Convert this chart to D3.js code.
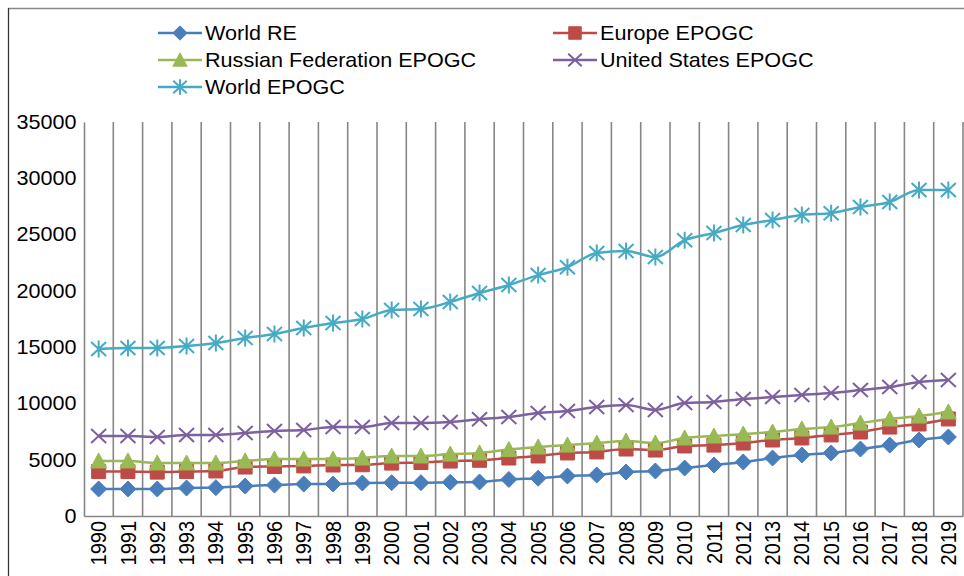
<!DOCTYPE html>
<html>
<head>
<meta charset="utf-8">
<script src="https://cdn.jsdelivr.net/npm/d3@7"></script>
<style>
  body { margin: 0; background: #fff; }
  text { font-family: "Liberation Sans", Arial, sans-serif; fill: #000; }
</style>
</head>
<body>
<script>
// data
var years = d3.range(1990, 2020).map(String);
var yTicks = [0, 5000, 10000, 15000, 20000, 25000, 30000, 35000];

var worldRE = [2400, 2400, 2400, 2490, 2520, 2660, 2750, 2840, 2840, 2930,
               2960, 2960, 3000, 3020, 3250, 3360, 3550, 3640, 3910, 4000,
               4260, 4530, 4800, 5150, 5420, 5600, 5950, 6300, 6750, 7020];
var europe = [3950, 3950, 3900, 3950, 4000, 4350, 4400, 4450, 4530, 4550,
              4700, 4750, 4880, 4950, 5150, 5330, 5600, 5690, 5950, 5860,
              6220, 6300, 6480, 6750, 6930, 7200, 7460, 7900, 8170, 8620];
var russia = [4890, 4890, 4710, 4710, 4710, 4890, 5060, 5060, 5060, 5150,
              5330, 5330, 5500, 5600, 5900, 6130, 6300, 6480, 6660, 6480,
              6930, 7100, 7280, 7460, 7730, 7900, 8260, 8620, 8880, 9240];
var usa = [7100, 7100, 7020, 7200, 7200, 7370, 7550, 7640, 7900, 7900,
           8260, 8260, 8350, 8600, 8790, 9150, 9330, 9680, 9860, 9420,
           10040, 10130, 10390, 10570, 10750, 10930, 11190, 11460, 11900, 12080];
var worldEPOGC = [14835, 14920, 14920, 15100, 15370, 15810, 16170, 16700, 17140, 17500,
                  18300, 18390, 19010, 19810, 20520, 21400, 22100, 23360, 23540, 23000,
                  24500, 25140, 25850, 26300, 26740, 26900, 27450, 27900, 28960, 28960];

var series = [
  {name: "World RE", values: worldRE, color: "#4a7ebb", marker: "diamond"},
  {name: "Europe EPOGC", values: europe, color: "#be4b48", marker: "square"},
  {name: "Russian Federation EPOGC", values: russia, color: "#98b954", marker: "triangle"},
  {name: "United States EPOGC", values: usa, color: "#7d60a0", marker: "x"},
  {name: "World EPOGC", values: worldEPOGC, color: "#46aac5", marker: "star"}
];

var W = 964, H = 576;
var stretch = 1.08; // text in the picture is a little wider than the font
var margin = {top: 122, right: 1, bottom: 60, left: 84};
var width = W - margin.left - margin.right,
    height = H - margin.top - margin.bottom;

var svg = d3.select("body").append("svg")
  .attr("width", W)
  .attr("height", H);

// outer chart border
svg.append("rect")
  .attr("x", 8.5).attr("y", 8.5)
  .attr("width", W + 20).attr("height", H + 20)
  .attr("fill", "none").attr("stroke", "#8a8a8a").attr("stroke-width", 1.5);
svg.append("line")
  .attr("x1", 8.5).attr("x2", 8.5).attr("y1", 8).attr("y2", H)
  .attr("stroke", "#333").attr("stroke-width", 1);

var g = svg.append("g")
  .attr("transform", "translate(" + margin.left + "," + margin.top + ")");

var x = d3.scaleBand().domain(years).range([0, width]).padding(0);
var y = d3.scaleLinear().domain([0, 35000]).range([height, 0]);

// vertical gridlines at category boundaries
g.append("g")
  .selectAll("line")
  .data(years)
  .enter().append("line")
  .attr("x1", function(d) { return x(d) + x.step(); })
  .attr("x2", function(d) { return x(d) + x.step(); })
  .attr("y1", 0).attr("y2", height)
  .attr("stroke", "#868686").attr("stroke-width", 1.6);

// y axis
var yAxis = g.append("g")
  .call(d3.axisLeft(y).tickValues(yTicks).tickSize(0).tickPadding(7).tickFormat(d3.format("d")));
yAxis.select(".domain").attr("stroke", "#868686").attr("stroke-width", 1.6);
yAxis.selectAll("text")
  .style("font-size", "20px")
  .style("font-family", "'Liberation Sans', Arial, sans-serif")
  .attr("transform", "scale(" + stretch + ",1)");

// x axis
var xAxis = g.append("g")
  .attr("transform", "translate(0," + height + ")")
  .call(d3.axisBottom(x).tickSize(0).tickPadding(0));
xAxis.select(".domain").attr("stroke", "#868686").attr("stroke-width", 1.6);
xAxis.selectAll("text")
  .style("font-size", "20px")
  .style("font-family", "'Liberation Sans', Arial, sans-serif")
  .attr("text-anchor", "end")
  .attr("transform", "rotate(-90) scale(1," + stretch + ")")
  .attr("x", -5)
  .attr("y", 0)
  .attr("dy", "0.35em");

// marker shapes
function markerPath(type) {
  if (type === "diamond") return "M0,-8L8,0L0,8L-8,0Z";
  if (type === "square") return "M-7,-7H7V7H-7Z";
  if (type === "triangle") return "M0,-8L8,7H-8Z";
  if (type === "x") return "M-7.5,-7L7.5,7M-7.5,7L7.5,-7";
  return "M-7.5,-7L7.5,7M-7.5,7L7.5,-7M0,-8.5V8.5";
}
function drawMarker(sel, s, k) {
  var filled = s.marker === "diamond" || s.marker === "square" || s.marker === "triangle";
  sel.append("path")
    .attr("d", markerPath(s.marker))
    .attr("transform", "scale(" + k + ")")
    .attr("fill", filled ? s.color : "none")
    .attr("stroke", s.color)
    .attr("stroke-width", filled ? 1 : 2 / k);
}

var line = d3.line()
  .x(function(d, i) { return x(years[i]) + x.bandwidth() / 2; })
  .y(function(d) { return y(d); })
  .curve(d3.curveMonotoneX);

series.forEach(function(s) {
  g.append("path")
    .datum(s.values)
    .attr("fill", "none")
    .attr("stroke", s.color)
    .attr("stroke-width", 2.5)
    .attr("d", line);

  g.append("g").selectAll("g")
    .data(s.values)
    .enter().append("g")
    .attr("transform", function(d, i) {
      return "translate(" + (x(years[i]) + x.bandwidth() / 2) + "," + y(d) + ")";
    })
    .each(function() { drawMarker(d3.select(this), s, 1); });
});

// legend
var legendPos = [[158, 33], [553, 33], [158, 60], [553, 60], [158, 87]];
series.forEach(function(s, i) {
  var lg = svg.append("g")
    .attr("transform", "translate(" + legendPos[i][0] + "," + legendPos[i][1] + ")");
  lg.append("line")
    .attr("x1", 0).attr("x2", 44).attr("y1", 0).attr("y2", 0)
    .attr("stroke", s.color).attr("stroke-width", 2.5);
  var m = lg.append("g").attr("transform", "translate(22,0)");
  drawMarker(m, s, 0.9);
  lg.append("text")
    .attr("transform", "translate(47,0) scale(" + stretch + ",1)")
    .attr("dy", "0.35em")
    .style("font-size", "20px")
    .text(s.name);
});
</script>
</body>
</html>
